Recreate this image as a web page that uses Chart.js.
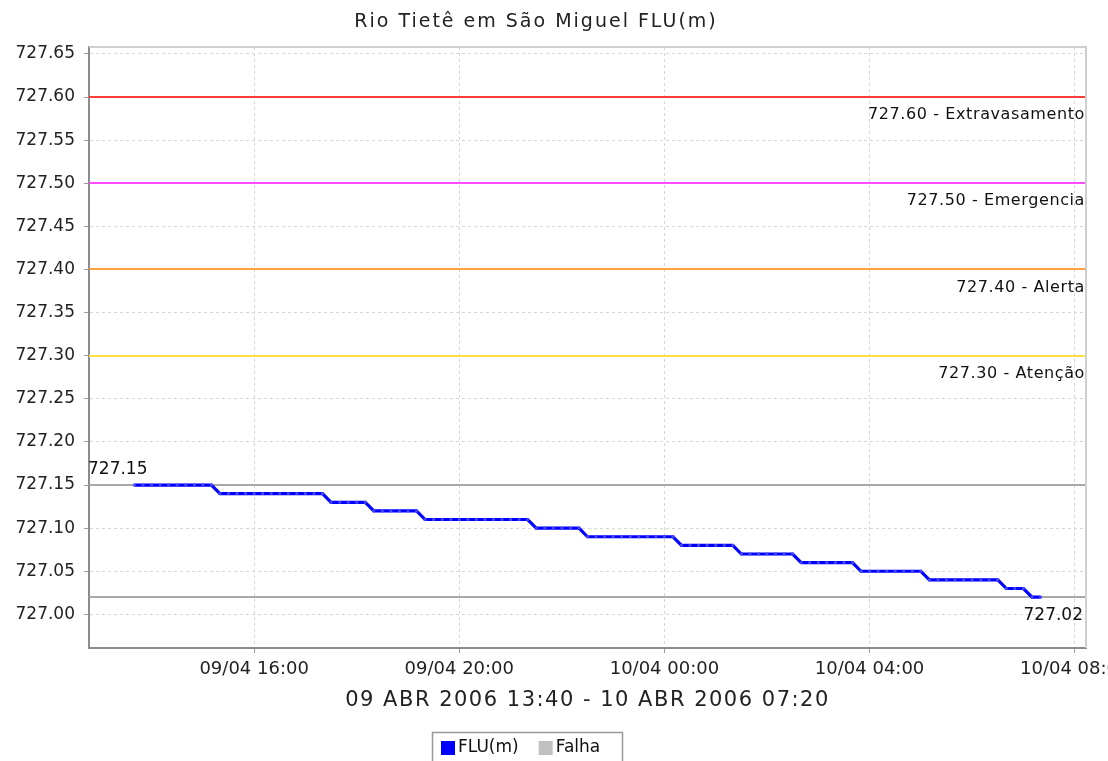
<!DOCTYPE html>
<html>
<head>
<meta charset="utf-8">
<title>Rio Tietê em São Miguel FLU(m)</title>
<script src="https://cdn.jsdelivr.net/npm/chart.js@4.4.0/dist/chart.umd.min.js"></script>
<style>
  body { margin: 0; background: #fff; }
  #wrap { width: 1108px; height: 761px; }
</style>
</head>
<body>
<div id="wrap"><canvas id="chart" width="1108" height="761"></canvas></div>
<script>
// leituras a cada 10 minutos, de 09/04 13:40 ate 10/04 07:20
const chartTitle = 'Rio Tietê em São Miguel FLU(m)';
const xAxisTitle = '09 ABR 2006 13:40 - 10 ABR 2006 07:20';
const sampleStartHour = 13 + 40 / 60;   // horas desde 09/04 00:00
const sampleStepMin = 10;

const fluValues = [
  727.15, 727.15, 727.15, 727.15, 727.15, 727.15, 727.15, 727.15, 727.15, 727.15,
  727.14, 727.14, 727.14, 727.14, 727.14, 727.14, 727.14, 727.14, 727.14, 727.14, 727.14, 727.14, 727.14,
  727.13, 727.13, 727.13, 727.13, 727.13,
  727.12, 727.12, 727.12, 727.12, 727.12, 727.12,
  727.11, 727.11, 727.11, 727.11, 727.11, 727.11, 727.11, 727.11, 727.11, 727.11, 727.11, 727.11, 727.11,
  727.10, 727.10, 727.10, 727.10, 727.10, 727.10,
  727.09, 727.09, 727.09, 727.09, 727.09, 727.09, 727.09, 727.09, 727.09, 727.09, 727.09,
  727.08, 727.08, 727.08, 727.08, 727.08, 727.08, 727.08,
  727.07, 727.07, 727.07, 727.07, 727.07, 727.07, 727.07,
  727.06, 727.06, 727.06, 727.06, 727.06, 727.06, 727.06,
  727.05, 727.05, 727.05, 727.05, 727.05, 727.05, 727.05, 727.05,
  727.04, 727.04, 727.04, 727.04, 727.04, 727.04, 727.04, 727.04, 727.04,
  727.03, 727.03, 727.03,
  727.02, 727.02
];

const thresholdValues = [727.60, 727.50, 727.40, 727.30];
const thresholdNames = ['Extravasamento', 'Emergencia', 'Alerta', 'Atenção'];
const thresholdColors = ['#ff3c3c', '#ff4dff', '#ffa040', '#ffe040'];

const xTickHours = [16, 20, 24, 28, 32];
const yTickValues = [727.00, 727.05, 727.10, 727.15, 727.20, 727.25, 727.30,
                     727.35, 727.40, 727.45, 727.50, 727.55, 727.60, 727.65];

const FONT = "'DejaVu Sans', sans-serif";

function pad2(n) { return (n < 10 ? '0' : '') + n; }
function fmtHour(h) {
  const day = 9 + Math.floor(h / 24);
  return pad2(day) + '/04 ' + pad2(Math.round(h % 24)) + ':00';
}

function drawText(ctx, txt, x, y, size, align, spacing) {
  ctx.font = size + 'px ' + FONT;
  ctx.letterSpacing = (spacing || 0) + 'px';
  ctx.textAlign = align;
  ctx.textBaseline = 'middle';
  ctx.fillText(txt, x, y);
  ctx.letterSpacing = '0px';
}

// linhas de referencia (cotas, max e min)
const refLines = {
  id: 'refLines',
  beforeDatasetsDraw(chart) {
    const {ctx, chartArea: a, scales: {y}} = chart;
    ctx.save();
    ctx.lineWidth = 2;
    const vmax = Math.max(...fluValues), vmin = Math.min(...fluValues);
    [[vmax, '#a8a8a8'], [vmin, '#a8a8a8']].concat(thresholdValues.map((v, i) => [v, thresholdColors[i]]))
      .forEach(([v, c]) => {
        const py = Math.round(y.getPixelForValue(v));
        ctx.strokeStyle = c;
        ctx.beginPath();
        ctx.moveTo(a.left, py);
        ctx.lineTo(a.right, py);
        ctx.stroke();
      });
    // contorno superior e direito
    ctx.strokeStyle = '#cfcfcf';
    ctx.beginPath();
    ctx.moveTo(a.left, a.top);
    ctx.lineTo(a.right, a.top);
    ctx.lineTo(a.right, a.bottom);
    ctx.stroke();
    ctx.restore();
  },
  afterDatasetsDraw(chart) {
    const {ctx, chartArea: a, scales: {y}} = chart;
    ctx.save();
    ctx.fillStyle = '#111';
    thresholdValues.forEach((v, i) => {
      const py = y.getPixelForValue(v);
      drawText(ctx, v.toFixed(2) + ' - ' + thresholdNames[i], a.right - 1, py + 18, 16, 'right', 0.6);
    });
    const vmax = Math.max(...fluValues), vmin = Math.min(...fluValues);
    drawText(ctx, vmax.toFixed(2), a.left - 1, y.getPixelForValue(vmax) - 15, 17, 'left', 0);
    drawText(ctx, vmin.toFixed(2), a.right - 3, y.getPixelForValue(vmin) + 18, 17, 'right', 0);
    ctx.restore();
  },
  afterDraw(chart) {
    const {ctx, chartArea: a} = chart;
    ctx.save();
    ctx.fillStyle = '#222';
    drawText(ctx, chartTitle, 536, 22, 19, 'center', 2);
    drawText(ctx, xAxisTitle, (a.left + a.right) / 2, 701, 21, 'center', 1.5);

    // legenda
    ctx.strokeStyle = '#999';
    ctx.lineWidth = 1.5;
    ctx.strokeRect(432.5, 732.5, 190, 40);
    let x = 441;
    chart.data.datasets.forEach(ds => {
      ctx.fillStyle = ds.borderColor;
      ctx.fillRect(x, 741, 14, 14);
      ctx.fillStyle = '#111';
      drawText(ctx, ds.label, x + 17, 748, 17, 'left', 0);
      ctx.font = '17px ' + FONT;
      x += 17 + ctx.measureText(ds.label).width + 20;
    });
    ctx.restore();
  }
};

const ctx = document.getElementById('chart').getContext('2d');
new Chart(ctx, {
  type: 'line',
  data: {
    datasets: [{
      label: 'FLU(m)',
      data: fluValues.map((v, i) => ({x: sampleStartHour + i * sampleStepMin / 60, y: v})),
      borderColor: '#0000ff',
      borderWidth: 3.2,
      pointRadius: 2,
      pointStyle: 'rect',
      pointBackgroundColor: '#4646ff',
      pointBorderWidth: 0,
      tension: 0
    }, {
      label: 'Falha',
      data: [],
      borderColor: '#c0c0c0'
    }]
  },
  options: {
    responsive: false,
    animation: false,
    devicePixelRatio: 1,
    layout: {padding: {left: 0, top: 47, right: 22, bottom: 0}},
    plugins: {legend: {display: false}, title: {display: false}, tooltip: {enabled: false}},
    scales: {
      x: {
        type: 'linear',
        min: 12.78,
        max: 32.22,
        afterBuildTicks: s => { s.ticks = xTickHours.map(v => ({value: v})); },
        afterFit: s => { s.height = 113; s.paddingLeft = 0; s.paddingRight = 0; },
        ticks: {
          autoSkip: false, maxRotation: 0, padding: 6, color: '#222',
          font: {family: FONT, size: 18},
          callback: v => fmtHour(v)
        },
        grid: {color: '#d6d6d6', tickColor: '#999', tickLength: 5},
        border: {color: '#8c8c8c', width: 2, dash: [3, 3]}
      },
      y: {
        type: 'linear',
        min: 726.961,
        max: 727.658,
        afterBuildTicks: s => { s.ticks = yTickValues.map(v => ({value: v})); },
        afterFit: s => { s.width = 89; s.paddingTop = 0; s.paddingBottom = 0; },
        ticks: {
          autoSkip: false, padding: 9, color: '#222',
          font: {family: FONT, size: 17},
          callback: v => v.toFixed(2)
        },
        grid: {color: '#d6d6d6', tickColor: '#999', tickLength: 5},
        border: {color: '#8c8c8c', width: 2, dash: [3, 3]}
      }
    }
  },
  plugins: [refLines]
});
</script>
</body>
</html>
